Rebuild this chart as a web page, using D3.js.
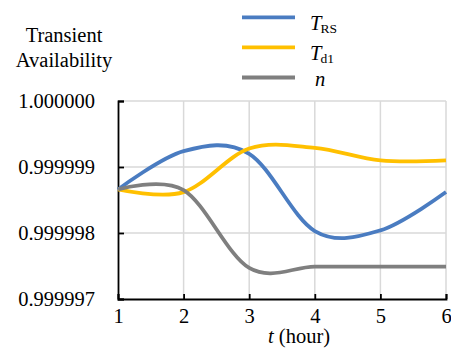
<!DOCTYPE html>
<html>
<head>
<meta charset="utf-8">
<script src="https://cdn.jsdelivr.net/npm/d3@7"></script>
<style>
  body { margin: 0; background: #fff; }
</style>
</head>
<body>
<svg id="chart" width="451" height="352"></svg>
<script>
// chart data
var hours = [1, 2, 3, 4, 5, 6];
var tRS = [0.99999866, 0.99999924, 0.99999920, 0.99999803, 0.99999804, 0.99999862];
var tD1 = [0.99999866, 0.99999862, 0.99999928, 0.99999929, 0.99999910, 0.99999910];
var nVals = [0.99999866, 0.99999865, 0.99999747, 0.99999749, 0.99999749, 0.99999749];
var yTicks = [0.999997, 0.999998, 0.999999, 1.0];
var xTicks = [1, 2, 3, 4, 5, 6];

var series = [
  {name: "T", sub: "RS", values: tRS, color: "#4a7cc1"},
  {name: "T", sub: "d1", values: tD1, color: "#ffc000"},
  {name: "n", sub: "", values: nVals, color: "#7f7f7f"}
];

var FONT = "'Liberation Serif'";
var svg = d3.select("#chart");
// plot box (note: "top" is taken by window.top)
var pLeft = 118, pRight = 446, pTop = 101, pBottom = 299;

var x = d3.scaleLinear().domain([1, 6]).range([pLeft, pRight]);
var y = d3.scaleLinear().domain([0.999997, 1.0]).range([pBottom, pTop]);

// grid lines
svg.append("g")
  .selectAll("line")
  .data(xTicks.slice(1))
  .enter().append("line")
  .attr("x1", d => x(d)).attr("x2", d => x(d))
  .attr("y1", pTop).attr("y2", pBottom)
  .attr("stroke", "#d9d9d9").attr("stroke-width", 1.5);

svg.append("g")
  .selectAll("line")
  .data(yTicks.slice(1))
  .enter().append("line")
  .attr("x1", pLeft).attr("x2", pRight)
  .attr("y1", d => y(d)).attr("y2", d => y(d))
  .attr("stroke", "#d9d9d9").attr("stroke-width", 1.5);

// axes, ticks point inward
var yAxis = d3.axisLeft(y).tickValues(yTicks).tickSize(-6).tickPadding(23)
  .tickFormat(d3.format(".6f"));
var gy = svg.append("g").attr("transform", "translate(" + pLeft + ",0)").call(yAxis);

var xAxis = d3.axisBottom(x).tickValues(xTicks).tickSize(-5).tickPadding(13)
  .tickFormat(d3.format("d"));
var gx = svg.append("g").attr("transform", "translate(0," + pBottom + ")").call(xAxis);

[gy, gx].forEach(function(g) {
  g.select(".domain").attr("stroke", "#000").attr("stroke-width", 1.8);
  g.selectAll(".tick line").attr("stroke", "#000").attr("stroke-width", 1.8);
  g.selectAll(".tick text")
    .style("font-family", FONT)
    .style("font-size", "20.5px").attr("fill", "#000");
});
gx.selectAll(".tick text").attr("dy", "0.53em");

// curves
var line = d3.line()
  .x((d, i) => x(hours[i]))
  .y(d => y(d))
  .curve(d3.curveCardinal.tension(0));

series.forEach(function(s) {
  svg.append("path")
    .attr("d", line(s.values))
    .attr("fill", "none")
    .attr("stroke", s.color)
    .attr("stroke-width", 3.8);
});

// y title
svg.append("text").attr("x", 64).attr("y", 41.5)
  .attr("text-anchor", "middle")
  .style("font-family", FONT).style("font-size", "20.5px").text("Transient");
svg.append("text").attr("x", 64).attr("y", 66.5)
  .attr("text-anchor", "middle")
  .style("font-family", FONT).style("font-size", "20.5px").text("Availability");

// x title
var xt = svg.append("text").attr("x", 268).attr("y", 343)
  .style("font-family", FONT).style("font-size", "20.5px");
xt.append("tspan").style("font-style", "italic").text("t");
xt.append("tspan").text(" (hour)");

// legend
var legendY = [17.3, 47.3, 77.5];
var textY = [29.5, 59.5, 85.5];
series.forEach(function(s, i) {
  svg.append("line")
    .attr("x1", 242).attr("x2", 295)
    .attr("y1", legendY[i]).attr("y2", legendY[i])
    .attr("stroke", s.color).attr("stroke-width", 3.8);
  var t = svg.append("text").attr("x", s.sub ? 310 : 315).attr("y", textY[i])
    .style("font-family", FONT).style("font-size", "20.5px");
  t.append("tspan").style("font-style", "italic").text(s.name);
  if (s.sub) {
    t.append("tspan").attr("dy", 3.5).attr("dx", -1).style("font-size", "13.5px").text(s.sub);
  }
});
</script>
</body>
</html>
